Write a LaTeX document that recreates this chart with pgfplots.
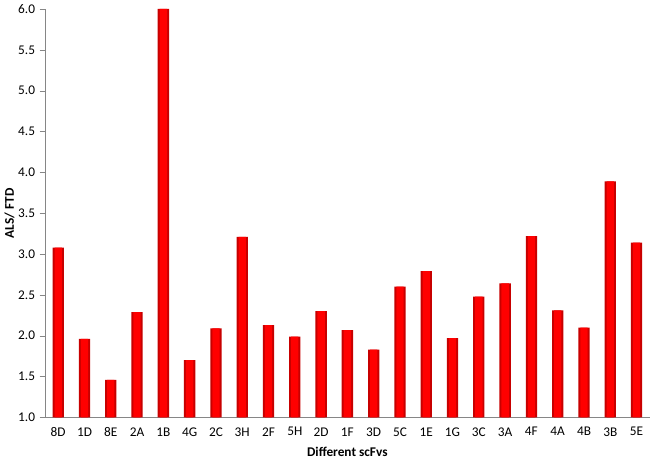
\documentclass[border=0pt]{standalone}
\usepackage{pgfplots}
\pgfplotsset{compat=1.18}
\usepackage{fontspec}
\setmainfont{Carlito}

\definecolor{axisgray}{RGB}{134,134,134}
\definecolor{barred}{RGB}{255,0,0}
\definecolor{baredge}{RGB}{200,0,0}

\pgfplotstableread{
x  v
0  3.08
1  1.96
2  1.46
3  2.29
4  6.00
5  1.70
6  2.09
7  3.21
8  2.13
9  1.99
10 2.30
11 2.07
12 1.83
13 2.60
14 2.79
15 1.97
16 2.48
17 2.64
18 3.22
19 2.31
20 2.10
21 3.89
22 3.14
}\scfvdata

\begin{document}
\begin{tikzpicture}
\begin{axis}[
  width=454.5pt, height=307pt,
  scale only axis,
  ybar, bar shift=0pt,
  xmin=-0.5, xmax=22.5,
  ymin=1, ymax=6,
  ytick={1,1.5,...,6},
  yticklabel style={/pgf/number format/.cd, fixed, fixed zerofill, precision=1},
  /pgf/number format/assume math mode=true,
  xtick={0,...,22},
  xticklabels={8D,1D,8E,2A,1B,4G,2C,3H,2F,5H,2D,1F,3D,5C,1E,1G,3C,3A,4F,4A,4B,3B,5E},
  axis x line*=bottom, axis y line*=left,
  x axis line style={-, draw=axisgray},
  y axis line style={-, draw=axisgray},
  x tick style={draw=none},
  y tick style={draw=axisgray},
  tick align=outside, major tick length=4pt,
  ticklabel style={font=\fontsize{10}{12}\selectfont},
  xlabel={\textbf{Different scFvs}},
  ylabel={\textbf{ALS/ FTD}},
  label style={font=\fontsize{10}{12}\selectfont},
  xlabel style={yshift=-1pt},
  ylabel style={yshift=-4pt},
]
\addplot[draw=none, fill=baredge, bar width=8.5pt] table[x=x, y=v] {\scfvdata};
\addplot[draw=none, fill=barred, bar width=5.5pt] table[x=x, y=v] {\scfvdata};
\end{axis}
\end{tikzpicture}
\end{document}
